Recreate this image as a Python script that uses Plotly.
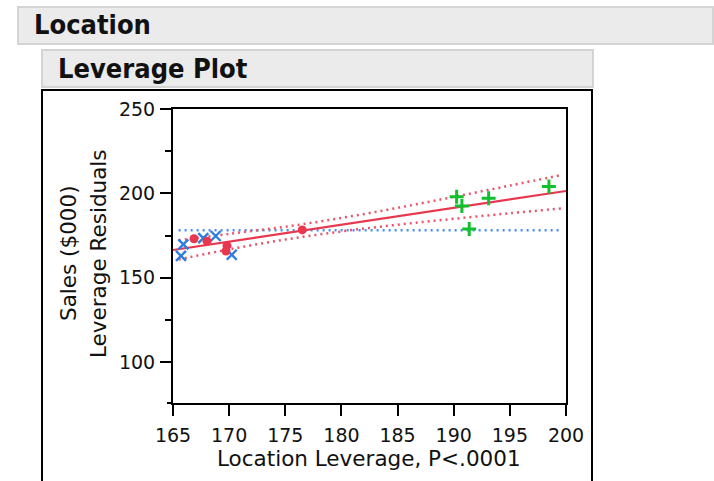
import plotly.graph_objects as go

W, H = 714, 481

# Leverage points for each marker group (x = Location leverage, y = leverage residual)
blue_x = [165.92, 165.71, 167.70, 168.80, 170.23]
blue_y = [169.8, 162.9, 173.5, 174.7, 163.6]
red_x = [166.87, 168.03, 169.81, 169.72, 176.51]
red_y = [173.1, 171.6, 169.0, 165.8, 178.3]
green_x = [190.26, 190.73, 193.11, 198.48, 191.38]
green_y = [198.0, 192.5, 197.1, 204.0, 178.9]

# Fitted line and its confidence curves
fit_x = [165, 200]
fit_y = [166.4, 201.4]
band_x = [165.5, 170, 175, 180, 185, 190, 195, 199.7]
band_upper = [172.2, 176.0, 180.2, 185.4, 191.4, 197.9, 204.6, 211.0]
band_lower = [160.8, 166.8, 172.6, 177.4, 181.4, 184.9, 188.2, 191.1]
mean_x = [165.5, 199.7]
mean_y = [178.1, 178.1]

x_ticks = [165, 170, 175, 180, 185, 190, 195, 200]
y_ticks = [100, 150, 200, 250]

RED = "#e8384f"
RED_DOT = "#e8556a"
BLUE = "#2f7de1"
BLUE_DOT = "#4b8ff0"
GREEN = "#12c02e"
DOTS = "2px,4px"


def px(x):
    return x / W


def py(y):
    return 1 - y / H


fig = go.Figure()

fig.add_trace(go.Scatter(x=mean_x, y=mean_y, mode="lines",
                         line=dict(color=BLUE_DOT, width=2.5, dash=DOTS),
                         hoverinfo="skip"))
fig.add_trace(go.Scatter(x=band_x, y=band_upper, mode="lines",
                         line=dict(color=RED_DOT, width=2.5, dash=DOTS, shape="spline"),
                         hoverinfo="skip"))
fig.add_trace(go.Scatter(x=band_x, y=band_lower, mode="lines",
                         line=dict(color=RED_DOT, width=2.5, dash=DOTS, shape="spline"),
                         hoverinfo="skip"))
fig.add_trace(go.Scatter(x=fit_x, y=fit_y, mode="lines",
                         line=dict(color=RED, width=2.2), hoverinfo="skip"))

fig.add_trace(go.Scatter(x=blue_x, y=blue_y, mode="markers",
                         marker=dict(symbol="x-thin", size=10,
                                     line=dict(color=BLUE, width=2.4))))
fig.add_trace(go.Scatter(x=red_x, y=red_y, mode="markers",
                         marker=dict(symbol="circle", size=9, color=RED,
                                     line=dict(width=0))))
fig.add_trace(go.Scatter(x=green_x, y=green_y, mode="markers",
                         marker=dict(symbol="cross-thin", size=10,
                                     line=dict(color=GREEN, width=3))))

tick_font = dict(family="DejaVu Sans", size=19, color="#111")

fig.update_layout(
    width=W, height=H, autosize=False,
    margin=dict(l=0, r=0, t=0, b=0, autoexpand=False),
    paper_bgcolor="white", plot_bgcolor="white",
    showlegend=False,
    xaxis=dict(
        domain=[px(173), px(566)], range=[165, 200], automargin=False,
        tickmode="array", tickvals=x_ticks,
        ticks="outside", ticklen=11, tickwidth=2, tickcolor="black",
        showline=True, linecolor="black", linewidth=2, mirror=True,
        showgrid=False, zeroline=False, tickfont=tick_font,
        ticklabelstandoff=3,
    ),
    yaxis=dict(
        domain=[py(403), py(109)], range=[75.7, 250], automargin=False,
        tickmode="array", tickvals=y_ticks,
        ticks="outside", ticklen=11, tickwidth=2, tickcolor="black",
        minor=dict(tickvals=[125, 175, 225], ticks="outside", ticklen=6,
                   tickwidth=2, tickcolor="black"),
        showline=True, linecolor="black", linewidth=2, mirror=True,
        showgrid=False, zeroline=False, tickfont=tick_font,
        ticklabelstandoff=1,
    ),
)

shapes = [
    # report section headers
    dict(type="rect", xref="paper", yref="paper",
         x0=px(18), x1=px(713), y0=py(44), y1=py(7),
         fillcolor="#ebebeb", line=dict(color="#d4d4d4", width=2), layer="below"),
    dict(type="rect", xref="paper", yref="paper",
         x0=px(42), x1=px(593), y0=py(87), y1=py(50),
         fillcolor="#ebebeb", line=dict(color="#d4d4d4", width=2), layer="below"),
    # outline around the plot panel
    dict(type="path", xref="paper", yref="paper",
         path=f"M {px(42)},{py(490)} L {px(42)},{py(90)} L {px(592)},{py(90)} L {px(592)},{py(490)}",
         line=dict(color="black", width=2)),
    # x axis baseline extending slightly past the y axis
    dict(type="line", xref="paper", yref="paper",
         x0=px(167), x1=px(173), y0=py(403), y1=py(403),
         line=dict(color="black", width=2)),
]

header_font = dict(family="DejaVu Sans Condensed", size=27, color="#111", weight="bold")
title_font = dict(family="DejaVu Sans", size=21.5, color="#111")

annotations = [
    dict(text="<b>Location</b>", xref="paper", yref="paper", x=px(32), y=py(25),
         xanchor="left", yanchor="middle", showarrow=False, font=header_font),
    dict(text="<b>Leverage Plot</b>", xref="paper", yref="paper", x=px(56), y=py(68),
         xanchor="left", yanchor="middle", showarrow=False, font=header_font),
    dict(text="Location Leverage, P<.0001", xref="paper", yref="paper",
         x=px(369), y=py(458), xanchor="center", yanchor="middle",
         showarrow=False, font=title_font),
    dict(text="Sales ($000)", xref="paper", yref="paper", x=px(68), y=py(253),
         xanchor="center", yanchor="middle", textangle=-90,
         showarrow=False, font=title_font),
    dict(text="Leverage Residuals", xref="paper", yref="paper", x=px(98), y=py(254),
         xanchor="center", yanchor="middle", textangle=-90,
         showarrow=False, font=title_font),
]

fig.update_layout(shapes=shapes, annotations=annotations)

fig.write_html("out.html", config={"responsive": False, "displayModeBar": False})
